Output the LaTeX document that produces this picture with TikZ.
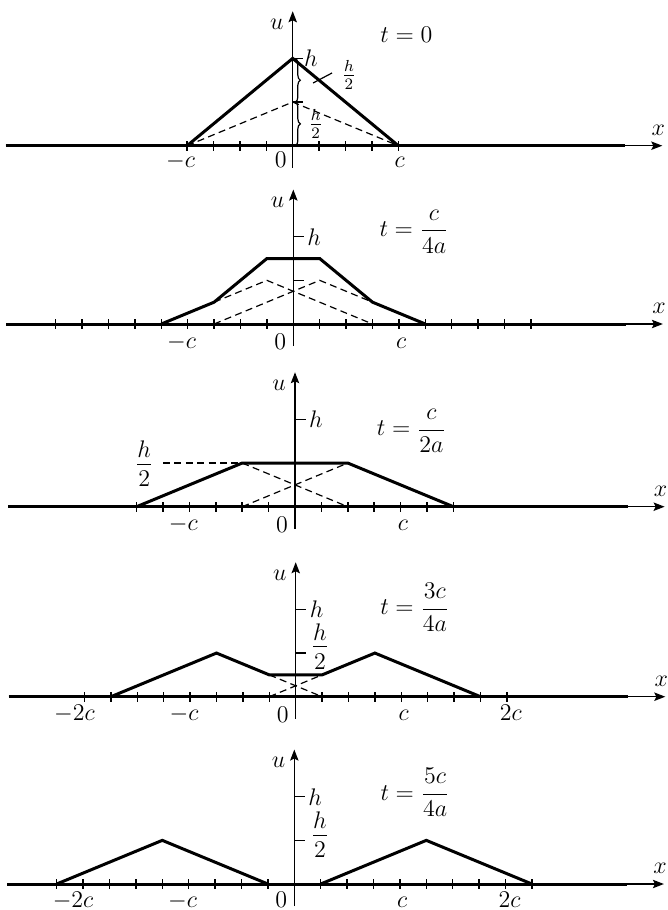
\documentclass[tikz,border=0pt]{standalone}
\usepackage{amsmath}
\usetikzlibrary{arrows.meta,decorations.pathreplacing}
\newcommand\pnlaxes[2]{%
  \draw[axl, arr] (-10.87,0) -- (14.0,0);
  \draw[thk] (-10.87,0) -- (12.6,0);
  \draw[axl, arr] (0,-0.252) -- (0,1.54);
  \foreach \i in {#1} \draw[tk] (\i,0) ++(0,-2.4pt) -- ++(0,4.8pt);
  \node[lbl] (#2u) at (-0.6,1.395) {$u$};
  \node[lbl] (#2x) at (13.85,0.18) {$x$};
  \draw[tk] (0,1) -- (0.4,1);
}
\newcommand\hhalf{\dfrac{\raisebox{-2pt}{$h$}}{2}}
\begin{document}
\begin{tikzpicture}[font=\fontsize{12}{14}\selectfont,
  thk/.style={line width=1.5pt, line join=miter},
  axl/.style={line width=0.65pt},
  dsh/.style={line width=0.6pt, dash pattern=on 3.5pt off 2.2pt},
  tk/.style={line width=0.75pt},
  lbl/.style={inner sep=0pt},
  arr/.style={-{Stealth[length=5.5pt,width=4.2pt,inset=1pt]}}]
\useasboundingbox (0,0) rectangle (334pt,-455pt);

% ---------- t = 0
\begin{scope}[shift={(146.35pt,-72.85pt)}, x=13.2pt, y=43.65pt]
  \pnlaxes{-4,-3,-2,-1,1,2,3,4}{a}
  \draw[tk] (0,0.5) -- (0.4,0.5);
  \draw[dsh] (-4,0) -- (0,0.5) -- (4,0);
  \draw[thk] (-4,0) -- (0,1) -- (4,0);
  \draw[tk, line width=0.6pt, decorate, decoration={brace, amplitude=2.5pt}] (0.1,1) -- (0.1,0.5);
  \draw[tk, line width=0.6pt, decorate, decoration={brace, amplitude=2.5pt}] (0.1,0.5) -- (0.1,0);
  \node[lbl, anchor=base] (ahu) at (2.13,0.741) {$\frac{h}{2}$};
  \node[lbl, anchor=base] (ahl) at (0.87,0.18) {$\frac{h}{2}$};
  \coordinate (lda) at (0.77,0.718);
  \coordinate (ldb) at (1.49,0.833);
  \draw[tk, line width=0.6pt] (lda) -- (ldb);
  \node[lbl, anchor=west] (ah) at (0.42,1) {$h$};
  \node[lbl, anchor=base west] (at) at (3.31,1.18) {$t=0$};
  \node[lbl, anchor=base] (am) at (-4.25,-0.252) {$-c$};
  \node[lbl, anchor=base] (a0) at (-0.45,-0.252) {$0$};
  \node[lbl, anchor=base] (ap) at (4.05,-0.252) {$c$};
\end{scope}

% ---------- t = c/4a
\begin{scope}[shift={(146.65pt,-162pt)}, x=13.2pt, y=43.65pt]
  \pnlaxes{-9,-8,-7,-6,-5,-4,-3,-2,-1,1,2,3,4,5,6,7,8,9}{b}
  \draw[tk] (0,0.5) -- (0.4,0.5);
  \draw[dsh] (-3,0.25) -- (-1,0.5) -- (3,0);
  \draw[dsh] (-3,0) -- (1,0.5) -- (3,0.25);
  \draw[thk] (-5,0) -- (-3,0.25) -- (-1,0.75) -- (1,0.75) -- (3,0.25) -- (5,0);
  \node[lbl, anchor=west] (bh) at (0.52,1) {$h$};
  \node[lbl, anchor=base west] (bt) at (3.25,0.997) {$t=\dfrac{c}{4a}$};
  \node[lbl, anchor=base] (bm) at (-4.23,-0.275) {$-c$};
  \node[lbl, anchor=base] (b0) at (-0.49,-0.29) {$0$};
  \node[lbl, anchor=base] (bp) at (4.09,-0.275) {$c$};
\end{scope}

% ---------- t = c/2a
\begin{scope}[shift={(147.5pt,-253.35pt)}, x=13.2pt, y=43.65pt]
  \pnlaxes{-6,-5,-4,-3,-2,-1,1,2,3,4,5,6}{c}
  \draw[dsh] (-2,0.5) -- (2,0);
  \draw[dsh] (-2,0) -- (2,0.5);
  \draw[dsh] (-5,0.5) -- (-2,0.5);
  \draw[thk] (-6,0) -- (-2,0.5) -- (2,0.5) -- (6,0);
  \node[lbl, anchor=base] (chh) at (-5.71,0.42) {$\hhalf$};
  \node[lbl, anchor=west] (ch) at (0.52,1) {$h$};
  \node[lbl, anchor=base west] (ct) at (3.09,0.81) {$t=\dfrac{c}{2a}$};
  \node[lbl, anchor=base] (cm) at (-4.23,-0.275) {$-c$};
  \node[lbl, anchor=base] (c0) at (-0.49,-0.29) {$0$};
  \node[lbl, anchor=base] (cp) at (4.09,-0.275) {$c$};
\end{scope}

% ---------- t = 3c/4a
\begin{scope}[shift={(147.85pt,-348.35pt)}, x=13.2pt, y=43.65pt]
  \pnlaxes{-8,-7,-6,-5,-4,-3,-2,-1,1,2,3,4,5,6,7,8}{d}
  \draw[tk] (0,0.5) -- (0.4,0.5);
  \draw[dsh] (-1,0.25) -- (1,0);
  \draw[dsh] (-1,0) -- (1,0.25);
  \draw[thk] (-7,0) -- (-3,0.5) -- (-1,0.25) -- (1,0.25) -- (3,0.5) -- (7,0);
  \node[lbl, anchor=west] (dh) at (0.52,1) {$h$};
  \node[lbl, anchor=base] (dhh) at (0.92,0.505) {$\hhalf$};
  \node[lbl, anchor=base west] (dt) at (3.19,0.936) {$t=\dfrac{3c}{4a}$};
  \node[lbl, anchor=base] (dmm) at (-8.38,-0.275) {$-2c$};
  \node[lbl, anchor=base] (dm) at (-4.23,-0.275) {$-c$};
  \node[lbl, anchor=base] (d0) at (-0.49,-0.29) {$0$};
  \node[lbl, anchor=base] (dp) at (4.09,-0.275) {$c$};
  \node[lbl, anchor=base] (dpp) at (8.15,-0.275) {$2c$};
\end{scope}

% ---------- t = 5c/4a
\begin{scope}[shift={(147.15pt,-442pt)}, x=13.2pt, y=43.65pt]
  \pnlaxes{-9,-8,-7,-6,-5,-4,-3,-2,-1,1,2,3,4,5,6,7,8,9}{e}
  \draw[tk] (0,0.5) -- (0.4,0.5);
  \draw[thk] (-9,0) -- (-5,0.5) -- (-1,0);
  \draw[thk] (1,0) -- (5,0.5) -- (9,0);
  \node[lbl, anchor=west] (eh) at (0.52,1) {$h$};
  \node[lbl, anchor=base] (ehh) at (0.97,0.49) {$\hhalf$};
  \node[lbl, anchor=base west] (et) at (3.25,0.962) {$t=\dfrac{5c}{4a}$};
  \node[lbl, anchor=base] (emm) at (-8.38,-0.265) {$-2c$};
  \node[lbl, anchor=base] (em) at (-4.23,-0.265) {$-c$};
  \node[lbl, anchor=base] (e0) at (-0.49,-0.27) {$0$};
  \node[lbl, anchor=base] (ep) at (4.09,-0.265) {$c$};
  \node[lbl, anchor=base] (epp) at (8.15,-0.265) {$2c$};
\end{scope}
\end{tikzpicture}
\end{document}
